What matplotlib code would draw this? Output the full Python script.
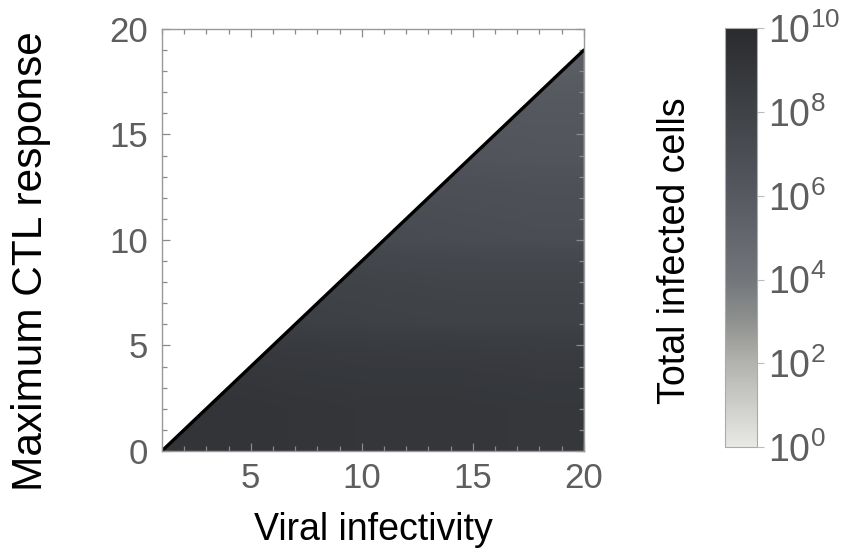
import matplotlib

matplotlib.use("Agg")
import matplotlib.pyplot as plt
import numpy as np
from matplotlib.colors import LinearSegmentedColormap, LogNorm
from matplotlib.patches import Polygon
from matplotlib.ticker import MultipleLocator

plt.rcParams["font.family"] = ["Liberation Sans", "DejaVu Sans"]
plt.rcParams["mathtext.fontset"] = "custom"
plt.rcParams["mathtext.rm"] = "Liberation Sans"
plt.rcParams["mathtext.default"] = "regular"

# grid on which the total infected cells were read (log10 values)
infectivity = [1, 5, 10, 15, 20]
ctl_max = [0, 5, 10, 15, 20]
log_infected = [
    [9.2, 9.1, 9.0, 9.0, 8.9],
    [8.3, 8.2, 8.1, 8.0, 8.0],
    [7.5, 7.4, 7.2, 7.1, 7.0],
    [6.7, 6.6, 6.5, 6.4, 6.3],
    [6.0, 6.0, 5.9, 5.8, 5.7],
]

# clearance boundary: above it the infection does not take off
boundary_x = [1, 20]
boundary_y = [0, 19]

cbar_ticks = [1e0, 1e2, 1e4, 1e6, 1e8, 1e10]
cbar_labels = ["$10^{0}$", "$10^{2}$", "$10^{4}$", "$10^{6}$", "$10^{8}$", "$10^{10}$"]

grey_stops = [
    (0.0, "#e8e8e4"),
    (0.2, "#b2b3ae"),
    (0.3, "#8f918f"),
    (0.4, "#72757a"),
    (0.6, "#56595f"),
    (0.8, "#3f4247"),
    (1.0, "#2a2b2e"),
]
cmap = LinearSegmentedColormap.from_list("cells", grey_stops)
norm = LogNorm(vmin=1e0, vmax=1e10)

TICK_GREY = "#8a8a8a"
LABEL_GREY = "#5e5e5e"

fig = plt.figure(figsize=(8.52, 5.52), dpi=100)
ax = fig.add_axes([0.190, 0.183, 0.4953, 0.7645])

img = ax.imshow(
    10.0 ** np.asarray(log_infected),
    origin="lower",
    extent=(infectivity[0], infectivity[-1], ctl_max[0], ctl_max[-1]),
    cmap=cmap,
    norm=norm,
    interpolation="bilinear",
    aspect="auto",
)
region = Polygon(
    list(zip(boundary_x, boundary_y)) + [(boundary_x[-1], boundary_y[0])],
    closed=True,
    transform=ax.transData,
)
img.set_clip_path(region)

ax.plot(boundary_x, boundary_y, color="black", lw=2.4, solid_capstyle="round")

ax.set_xlim(1, 20)
ax.set_ylim(0, 20)
ax.xaxis.set_major_locator(MultipleLocator(5))
ax.yaxis.set_major_locator(MultipleLocator(5))
ax.xaxis.set_minor_locator(MultipleLocator(1))
ax.yaxis.set_minor_locator(MultipleLocator(1))
ax.tick_params(which="both", direction="in", top=True, right=True, color=TICK_GREY,
               width=0.9)
ax.tick_params(which="major", length=6, labelsize=25, labelcolor=LABEL_GREY)
ax.tick_params(axis="x", which="major", pad=8)
ax.tick_params(axis="y", which="major", pad=10)
ax.tick_params(which="minor", length=3.5)
for spine in ax.spines.values():
    spine.set_color("#999999")
    spine.set_linewidth(1.0)

ax.set_xlabel("Viral infectivity", fontsize=27, labelpad=12)
fig.text(0.036, 0.527, "Maximum CTL response", fontsize=30.5, rotation=90,
         ha="center", va="center")

cax = fig.add_axes([0.851, 0.190, 0.0376, 0.759])
cb = fig.colorbar(img, cax=cax)
cb.set_ticks(cbar_ticks)
cb.set_ticklabels(cbar_labels)
cb.minorticks_off()
cb.outline.set_edgecolor("#aaaaaa")
cb.outline.set_linewidth(0.8)
cax.tick_params(length=5, width=0.8, color="#bbbbbb", labelsize=27,
                labelcolor=LABEL_GREY, pad=3)
fig.text(0.792, 0.545, "Total infected cells", fontsize=27, rotation=90,
         ha="center", va="center")

fig.savefig("out.png", dpi=100, facecolor="white")
